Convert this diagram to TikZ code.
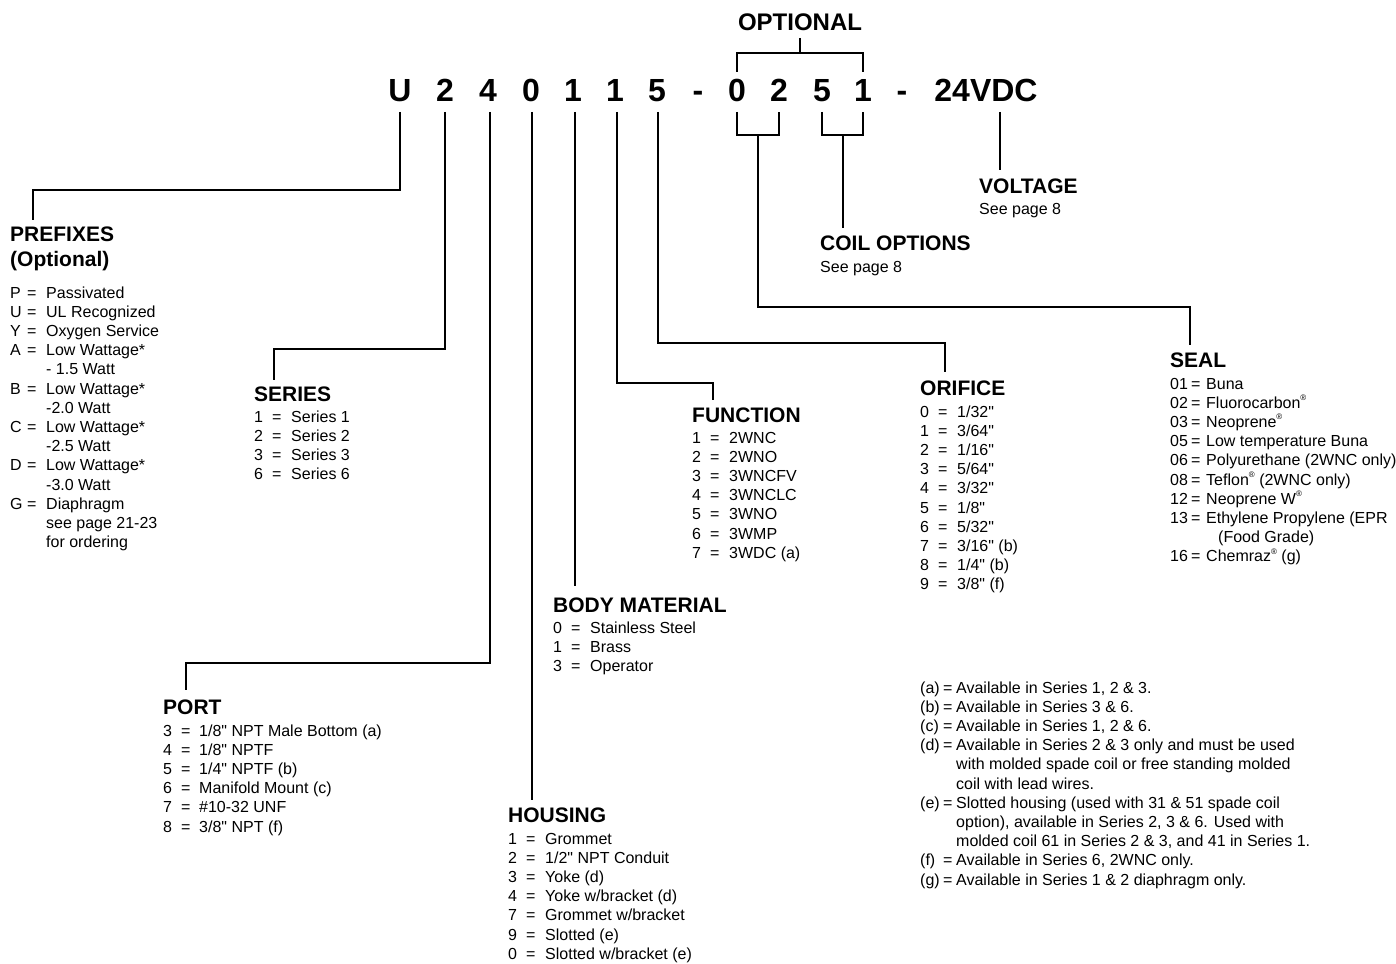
\documentclass[tikz,border=0pt]{standalone}
\usepackage{fontspec}
\setmainfont{Liberation Sans}
\usepackage{array}
\newcommand\qq{\XeTeXglyph\XeTeXglyphindex "quotedbl"\relax}
\newcommand\regm{\raisebox{0.9ex}{\fontsize{8}{8}\selectfont\textregistered}}
\begin{document}
\begin{tikzpicture}[x=1pt,y=-1pt,
  code/.style={font=\fontsize{32}{38}\selectfont\bfseries, inner sep=0pt, anchor=base},
  opt/.style={font=\fontsize{24}{28}\selectfont\bfseries, inner sep=0pt, anchor=base},
  head/.style={font=\fontsize{21}{25}\selectfont\bfseries, inner sep=0pt, anchor=base west},
  lst/.style={font=\fontsize{16}{19.2}\selectfont, inner sep=0pt, anchor=base west},
  conn/.style={line width=2.6pt, line join=miter}]
\useasboundingbox[fill=white] (0,0) rectangle (1396,963);

% code line
\node[opt] (optional) at (800,30.5) {OPTIONAL};
\node[code] (cU) at (400,101.5) {U};
\node[code] (c2) at (445,101.5) {2};
\node[code] (c4) at (488,101.5) {4};
\node[code] (c0) at (531,101.5) {0};
\node[code] (c1a) at (573,101.5) {1};
\node[code] (c1b) at (615,101.5) {1};
\node[code] (c5) at (657,101.5) {5};
\node[code] (dash1) at (698,101.5) {-};
\node[code] (s0) at (737,101.5) {0};
\node[code] (s2) at (779,101.5) {2};
\node[code] (k5) at (822,101.5) {5};
\node[code] (k1) at (863,101.5) {1};
\node[code] (dash2) at (902,101.5) {-};
\node[code] (volt) at (986,101.5) {24VDC};

\coordinate (top) at (0,112);

% headers
\node[head] (hPre) at (10,241) {PREFIXES};
\node[head] (hPreOpt) at (10,266) {(Optional)};
\node[head] (hSer) at (254,401) {SERIES};
\node[head] (hPort) at (163,714) {PORT};
\node[head] (hHous) at (508,822) {HOUSING};
\node[head] (hBody) at (553,612) {BODY MATERIAL};
\node[head] (hFunc) at (692,422) {FUNCTION};
\node[head] (hOri) at (920,395) {ORIFICE};
\node[head] (hSeal) at (1170,367) {SEAL};
\node[head] (hCoil) at (820,250) {COIL OPTIONS};
\node[lst] (pCoil) at (820,272) {See page 8};
\node[head] (hVolt) at (979,193) {VOLTAGE};
\node[lst] (pVolt) at (979,214) {See page 8};

% lists
\node[lst] (lPre) at (10,298) {\begin{tabular}[t]{@{}p{17pt}@{}p{19pt}@{}l@{}}
P&=&Passivated\\
U&=&UL Recognized\\
Y&=&Oxygen Service\\
A&=&Low Wattage*\\
&&- 1.5 Watt\\
B&=&Low Wattage*\\
&&-2.0 Watt\\
C&=&Low Wattage*\\
&&-2.5 Watt\\
D&=&Low Wattage*\\
&&-3.0 Watt\\
G&=&Diaphragm\\
&&see page 21-23\\
&&for ordering
\end{tabular}};

\node[lst] (lSer) at (254,422) {\begin{tabular}[t]{@{}p{18pt}@{}p{19pt}@{}l@{}}
1&=&Series 1\\
2&=&Series 2\\
3&=&Series 3\\
6&=&Series 6
\end{tabular}};

\node[lst] (lPort) at (163,736) {\begin{tabular}[t]{@{}p{18pt}@{}p{18pt}@{}l@{}}
3&=&1/8\qq{} NPT Male Bottom (a)\\
4&=&1/8\qq{} NPTF\\
5&=&1/4\qq{} NPTF (b)\\
6&=&Manifold Mount (c)\\
7&=&\#10-32 UNF\\
8&=&3/8\qq{} NPT (f)
\end{tabular}};

\node[lst] (lHous) at (508,844) {\begin{tabular}[t]{@{}p{18pt}@{}p{19pt}@{}l@{}}
1&=&Grommet\\
2&=&1/2\qq{} NPT Conduit\\
3&=&Yoke (d)\\
4&=&Yoke w/bracket (d)\\
7&=&Grommet w/bracket\\
9&=&Slotted (e)\\
0&=&Slotted w/bracket (e)
\end{tabular}};

\node[lst] (lBody) at (553,633) {\begin{tabular}[t]{@{}p{18pt}@{}p{19pt}@{}l@{}}
0&=&Stainless Steel\\
1&=&Brass\\
3&=&Operator
\end{tabular}};

\node[lst] (lFunc) at (692,443) {\begin{tabular}[t]{@{}p{18pt}@{}p{19pt}@{}l@{}}
1&=&2WNC\\
2&=&2WNO\\
3&=&3WNCFV\\
4&=&3WNCLC\\
5&=&3WNO\\
6&=&3WMP\\
7&=&3WDC (a)
\end{tabular}};

\node[lst] (lOri) at (920,417) {\begin{tabular}[t]{@{}p{18pt}@{}p{19pt}@{}l@{}}
0&=&1/32\qq\\
1&=&3/64\qq\\
2&=&1/16\qq\\
3&=&5/64\qq\\
4&=&3/32\qq\\
5&=&1/8\qq\\
6&=&5/32\qq\\
7&=&3/16\qq{} (b)\\
8&=&1/4\qq{} (b)\\
9&=&3/8\qq{} (f)
\end{tabular}};

\node[lst] (lSeal) at (1170,389) {\begin{tabular}[t]{@{}p{21pt}@{}p{15pt}@{}l@{}}
01&=&Buna\\
02&=&Fluorocarbon\regm\\
03&=&Neoprene\regm\\
05&=&Low temperature Buna\\
06&=&Polyurethane (2WNC only)\\
08&=&Teflon\regm{} (2WNC only)\\
12&=&Neoprene W\regm\\
13&=&Ethylene Propylene (EPR\\
&&\hspace*{12pt}(Food Grade)\\
16&=&Chemraz\regm{} (g)
\end{tabular}};

\node[lst] (lNotes) at (920,693) {\begin{tabular}[t]{@{}p{23pt}@{}p{13pt}@{}l@{}}
(a)&=&Available in Series 1, 2 \& 3.\\
(b)&=&Available in Series 3 \& 6.\\
(c)&=&Available in Series 1, 2 \& 6.\\
(d)&=&Available in Series 2 \& 3 only and must be used\\
&&with molded spade coil or free standing molded\\
&&coil with lead wires.\\
(e)&=&Slotted housing (used with 31 \& 51 spade coil\\
&&option), available in Series 2, 3 \& 6. Used with\\
&&molded coil 61 in Series 2 \& 3, and 41 in Series 1.\\
(f)&=&Available in Series 6, 2WNC only.\\
(g)&=&Available in Series 1 \& 2 diaphragm only.
\end{tabular}};

% connectors
\draw[conn] (optional.south |- 0,38) -- (800,53);
\draw[conn] (s0 |- 0,72) |- (863,53) -- (k1 |- 0,72);

\draw[conn] (cU |- top) |- (33,190) -- (33,220);
\draw[conn] (c2 |- top) |- (274,349) -- (274,380);
\draw[conn] (490,112) |- (186,663) -- (186,690);
\draw[conn] (532,112) -- (532,800);
\draw[conn] (575,112) -- (575,586);
\draw[conn] (617,112) |- (713,383) -- (713,400);
\draw[conn] (658,112) |- (945,343) -- (945,372);
\draw[conn] (s0 |- top) |- (779,135) -- (s2 |- top);
\draw[conn] (758,135) |- (1190,307) -- (1190,345);
\draw[conn] (k5 |- top) |- (863,135) -- (k1 |- top);
\draw[conn] (843,135) -- (843,228);
\draw[conn] (1000,112) -- (1000,170);
\end{tikzpicture}
\end{document}
